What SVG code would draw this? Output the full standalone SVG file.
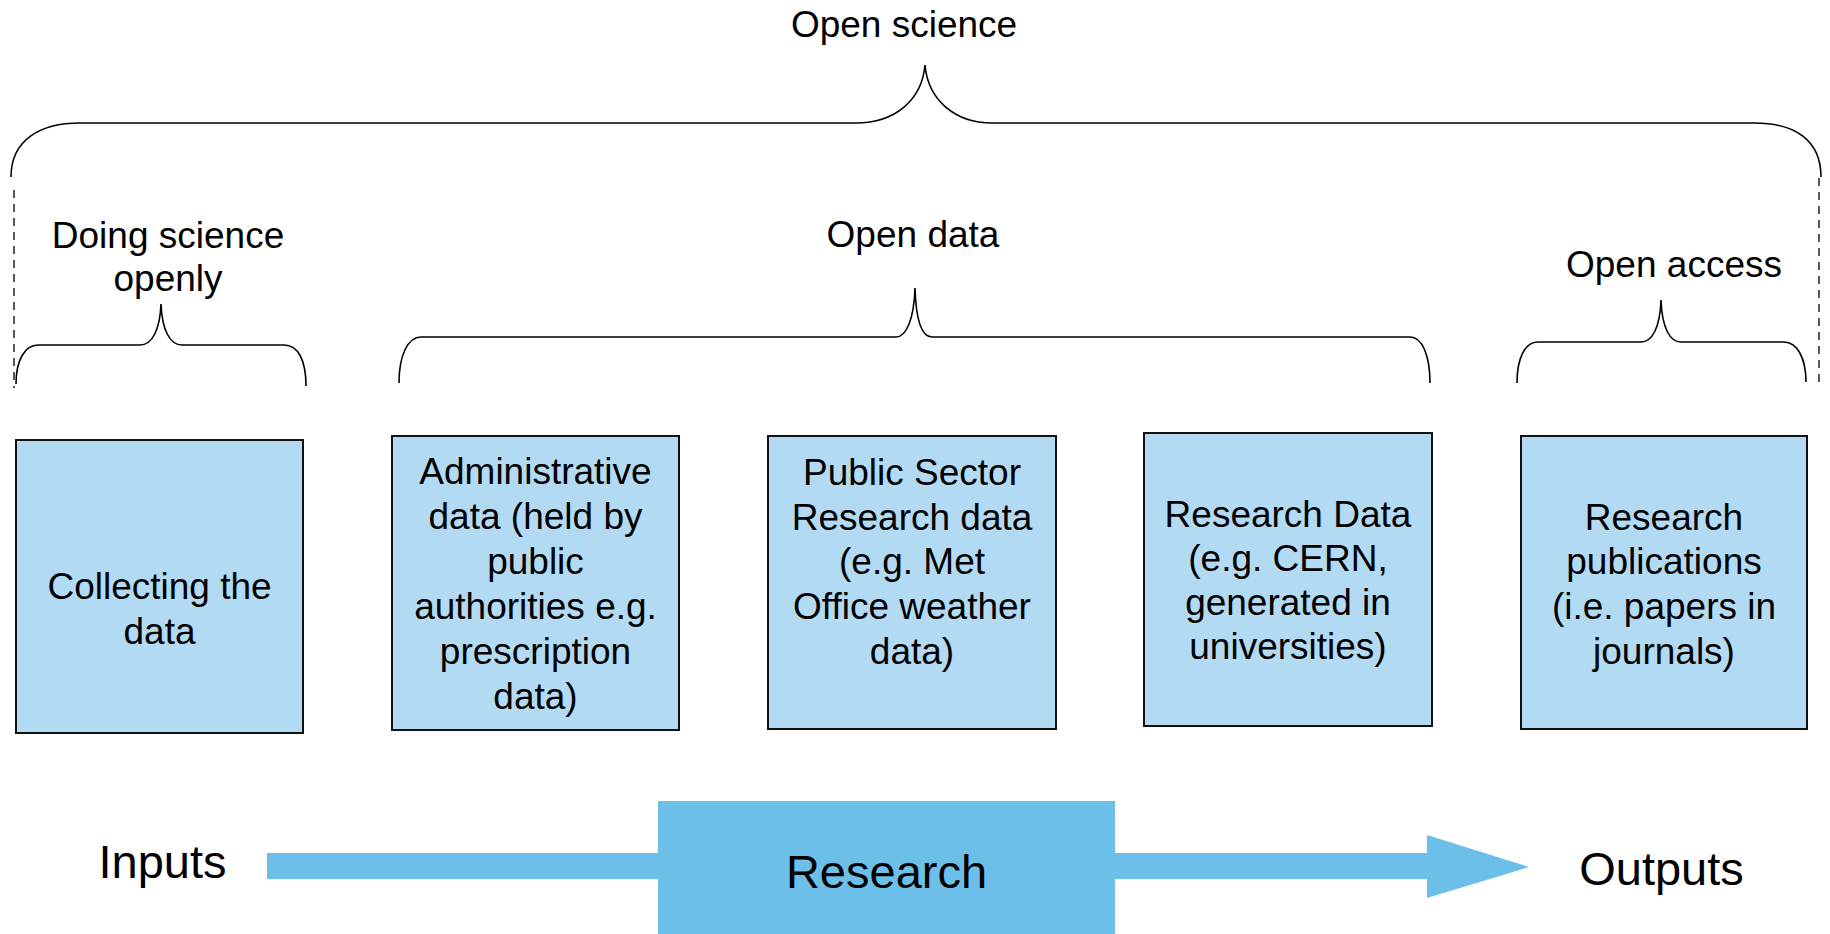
<svg xmlns="http://www.w3.org/2000/svg" width="1830" height="934" viewBox="0 0 1830 934">
<style>
text{font-family:"Liberation Sans",Arial,Helvetica,sans-serif;fill:#000;text-anchor:middle}
.lbl{font-size:37px}
.big{font-size:47px}
.box{fill:#b2daf2;stroke:#111;stroke-width:2}
.brace{fill:none;stroke:#000;stroke-width:1.6}
.dash{fill:none;stroke:#000;stroke-width:1.3;stroke-dasharray:8,6}
.flow{fill:#6cbfe9}
</style>
<rect width="1830" height="934" fill="#fff"/>
<g id="connectors">
  <path class="dash" d="M14,190 L14,388"/>
  <path class="dash" d="M1819,178 L1819,388"/>
  <path id="brace-open-science" class="brace" d="M11,177 C11,140 40,123 80,123 L856,123 C895,123 922,100 925,65 C928,100 955,123 992,123 L1754,123 C1795,123 1821,140 1821,177"/>
  <path id="brace-doing" class="brace" d="M16,384 C16,360 25,345 38,345 L140,345 C152,345 160,330 161,304 C162,330 170,345 182,345 L284,345 C298,345 306,360 306,386"/>
  <path id="brace-open-data" class="brace" d="M399,383 C399,355 408,337 421,337 L896,337 C906,337 914,320 915,288 C916,320 922,337 932,337 L1410,337 C1422,337 1430,355 1430,383"/>
  <path id="brace-open-access" class="brace" d="M1517,383 C1517,358 1525,342 1538,342 L1641,342 C1652,342 1660,328 1661,300 C1662,328 1670,342 1681,342 L1784,342 C1797,342 1806,358 1806,382"/>
</g>
<g id="labels">
  <text class="lbl" x="904" y="37">Open science</text>
  <text class="lbl" x="168" y="248">Doing science<tspan x="168" y="291">openly</tspan></text>
  <text class="lbl" x="913" y="247">Open data</text>
  <text class="lbl" x="1674" y="277">Open access</text>
</g>
<g id="node-collecting">
  <rect class="box" x="16" y="440" width="287" height="293"/>
  <text class="lbl" x="159.5" y="599">Collecting the<tspan x="159.5" y="644">data</tspan></text>
</g>
<g id="node-administrative">
  <rect class="box" x="392" y="436" width="287" height="294"/>
  <text class="lbl" x="535.5" y="484">Administrative<tspan x="535.5" y="529">data (held by</tspan><tspan x="535.5" y="574">public</tspan><tspan x="535.5" y="619">authorities e.g.</tspan><tspan x="535.5" y="664">prescription</tspan><tspan x="535.5" y="709">data)</tspan></text>
</g>
<g id="node-public-sector">
  <rect class="box" x="768" y="436" width="288" height="293"/>
  <text class="lbl" x="912" y="485">Public Sector<tspan x="912" y="529.5">Research data</tspan><tspan x="912" y="574">(e.g. Met</tspan><tspan x="912" y="618.5">Office weather</tspan><tspan x="912" y="664">data)</tspan></text>
</g>
<g id="node-research-data">
  <rect class="box" x="1144" y="433" width="288" height="293"/>
  <text class="lbl" x="1288" y="527">Research Data<tspan x="1288" y="570.5">(e.g. CERN,</tspan><tspan x="1288" y="614.5">generated in</tspan><tspan x="1288" y="658.5">universities)</tspan></text>
</g>
<g id="node-publications">
  <rect class="box" x="1521" y="436" width="286" height="293"/>
  <text class="lbl" x="1664" y="530">Research<tspan x="1664" y="574">publications</tspan><tspan x="1664" y="619">(i.e. papers in</tspan><tspan x="1664" y="664">journals)</tspan></text>
</g>
<g id="flow-arrow">
  <rect class="flow" x="267" y="853" width="1162" height="26"/>
  <polygon class="flow" points="1427,835 1529,867 1427,898"/>
</g>
<g id="node-research">
  <rect class="flow" x="658" y="801" width="457" height="133"/>
  <text class="big" x="886.5" y="888">Research</text>
</g>
<g id="node-inputs">
  <text class="big" x="162.5" y="878">Inputs</text>
</g>
<g id="node-outputs">
  <text class="big" x="1661.5" y="885">Outputs</text>
</g>
</svg>
